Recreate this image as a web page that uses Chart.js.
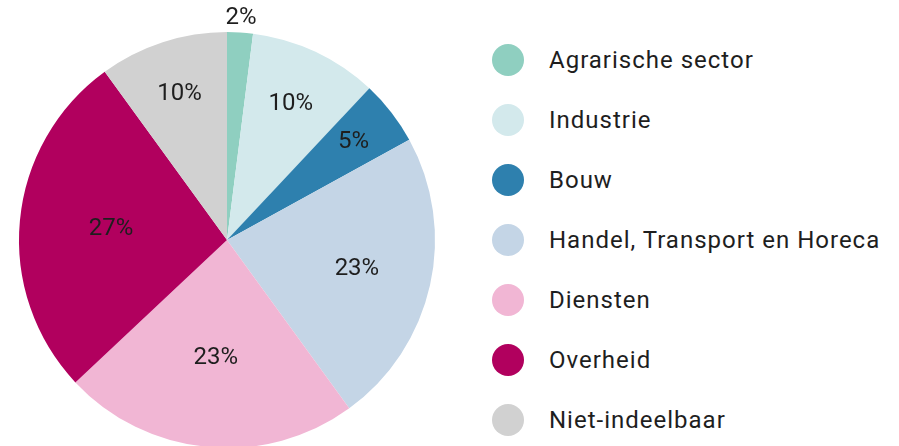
<!DOCTYPE html>
<html>
<head>
<meta charset="utf-8">
<script src="https://cdn.jsdelivr.net/npm/chart.js@4/dist/chart.umd.min.js"></script>
<style>
  html, body { margin: 0; padding: 0; background: #fff; overflow: hidden; width: 899px; height: 446px; }
  #chart-wrap { position: absolute; left: 0; top: 0; width: 454px; height: 480px; }
  #legend { position: absolute; left: 492px; top: 0; font-family: Roboto, "DejaVu Sans", sans-serif; }
  .item { position: absolute; left: 0; height: 32px; display: flex; align-items: center; white-space: nowrap; }
  .dot { width: 32px; height: 32px; border-radius: 50%; margin-right: 25px; }
  .label { font-size: 24px; color: #1e1e1e; letter-spacing: 1px; }
</style>
</head>
<body>
<div id="chart-wrap"><canvas id="pie"></canvas></div>
<div id="legend"></div>
<script>
// --- Data ---
const categories = ['Agrarische sector', 'Industrie', 'Bouw', 'Handel, Transport en Horeca', 'Diensten', 'Overheid', 'Niet-indeelbaar'];
const shares = [2, 10, 5, 23, 23, 27, 10];
const colors = ['#8fcfc0', '#d3e9ec', '#2e80ae', '#c4d5e6', '#f1b6d4', '#b1005e', '#d1d1d1'];
// how far from the centre each percentage sits (fraction of radius)
const labelRadius = [1.07, 0.72, 0.77, 0.64, 0.57, 0.56, 0.74];

// --- Percentage labels ---
const pieLabels = {
    id: 'pieLabels',
    afterDatasetsDraw(chart) {
        const ctx = chart.ctx;
        const arcs = chart.getDatasetMeta(0).data;
        ctx.save();
        ctx.font = '24px Roboto, "DejaVu Sans", sans-serif';
        ctx.fillStyle = '#1e1e1e';
        ctx.textAlign = 'center';
        ctx.textBaseline = 'middle';
        arcs.forEach((arc, i) => {
            const p = arc.getProps(['x', 'y', 'startAngle', 'endAngle', 'outerRadius'], true);
            const mid = (p.startAngle + p.endAngle) / 2;
            const r = p.outerRadius * labelRadius[i];
            ctx.fillText(shares[i] + '%', p.x + Math.cos(mid) * r, p.y + Math.sin(mid) * r);
        });
        ctx.restore();
    }
};

new Chart(document.getElementById('pie'), {
    type: 'pie',
    data: {
        labels: categories,
        datasets: [{ data: shares, backgroundColor: colors, borderWidth: 0 }]
    },
    options: {
        responsive: true,
        maintainAspectRatio: false,
        animation: false,
        layout: { padding: { left: 19, right: 19, top: 32, bottom: 32 } },
        plugins: { legend: { display: false }, tooltip: { enabled: false } }
    },
    plugins: [pieLabels]
});

// --- Legend ---
const legend = document.getElementById('legend');
categories.forEach((name, i) => {
    const item = document.createElement('div');
    item.className = 'item';
    item.style.top = (44 + i * 60) + 'px';
    item.innerHTML = `<span class="dot" style="background:${colors[i]}"></span><span class="label">${name}</span>`;
    legend.appendChild(item);
});
</script>
</body>
</html>
